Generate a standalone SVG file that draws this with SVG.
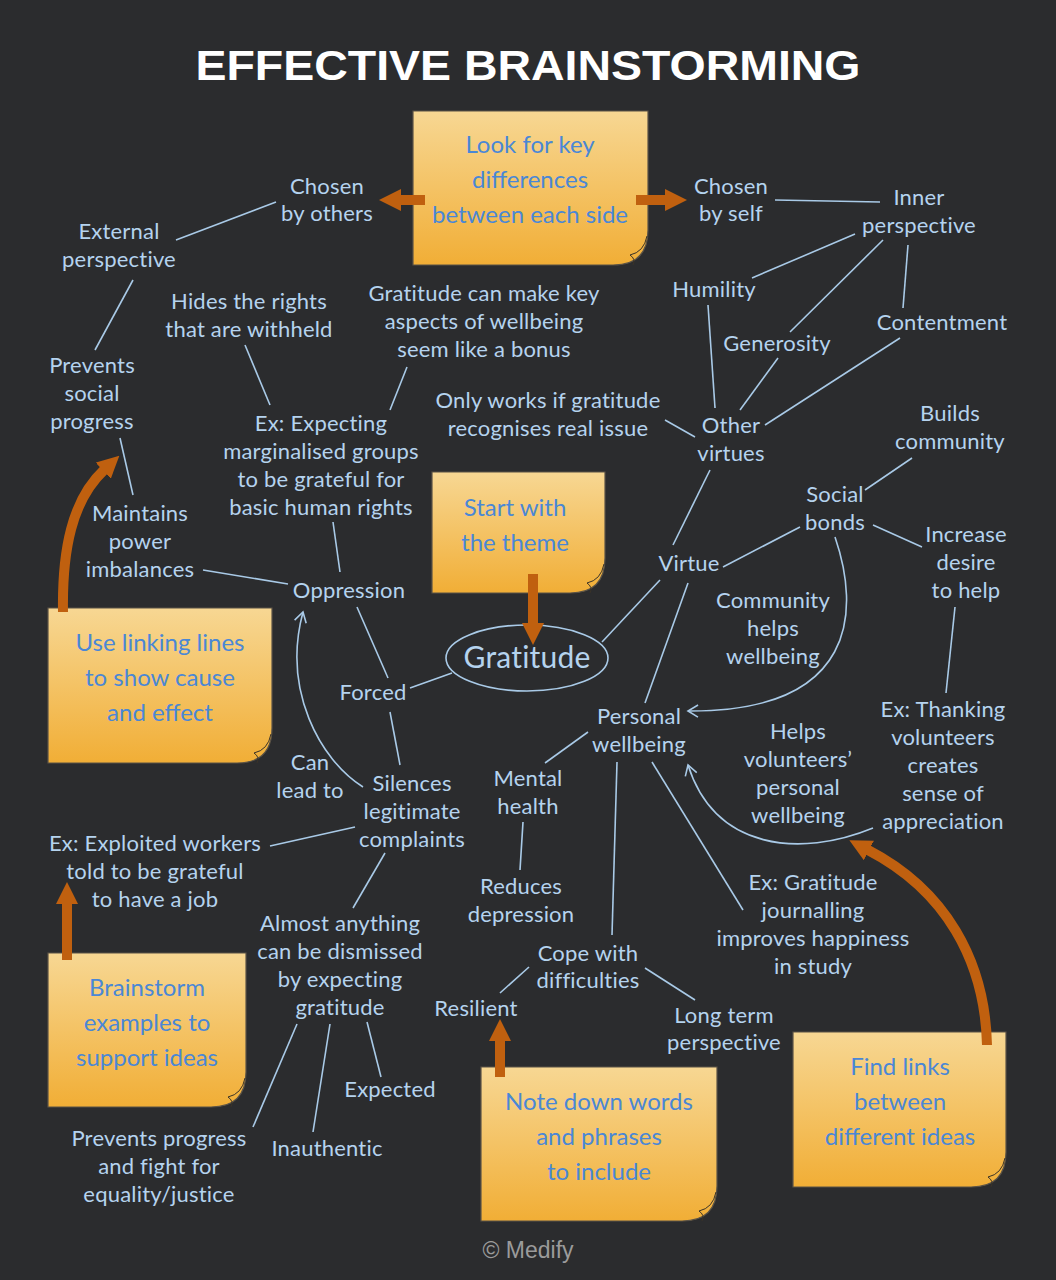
<svg xmlns="http://www.w3.org/2000/svg" width="1056" height="1280" viewBox="0 0 1056 1280">
<style>
.t{font-family:Lato,"Open Sans",sans-serif;font-size:22px;letter-spacing:0.2px;fill:#b5d3ee;text-anchor:middle}
.s{font-family:Lato,"Open Sans",sans-serif;font-size:24px;fill:#4a87d6;text-anchor:middle}
.c{fill:none;stroke:#a9cae7;stroke-width:1.6}
.ca{fill:none;stroke:#a9cae7;stroke-width:1.6;marker-end:url(#la)}
.o{fill:none;stroke:#c0600f;stroke-width:10;marker-end:url(#oa)}
.note{fill:url(#ng);stroke:#5b5346;stroke-width:1.2}
.curl{fill:none;stroke:#3a3328;stroke-width:1}
</style>
<defs>
<linearGradient id="ng" x1="0" y1="0" x2="0" y2="1">
<stop offset="0" stop-color="#f7d793"/>
<stop offset="1" stop-color="#f1ae36"/>
</linearGradient>
<marker id="oa" markerUnits="userSpaceOnUse" markerWidth="22" markerHeight="22" viewBox="0 0 22 22" refX="1" refY="11" orient="auto">
<path d="M0,0 L22,11 L0,22 Z" fill="#c0600f"/>
</marker>
<marker id="la" markerUnits="userSpaceOnUse" markerWidth="14" markerHeight="14" viewBox="0 0 14 14" refX="12" refY="7" orient="auto">
<path d="M2,1 L12,7 L2,13" fill="none" stroke="#a9cae7" stroke-width="1.6"/>
</marker>
</defs>
<rect width="1056" height="1280" fill="#2b2c2e"/>
<text x="528" y="80" font-family="Liberation Sans,Arial,sans-serif" font-weight="bold" font-size="42" fill="#ffffff" text-anchor="middle" textLength="665" lengthAdjust="spacingAndGlyphs">EFFECTIVE BRAINSTORMING</text>

<g id="connectors">
<path class="c" d="M176,240 L276,202"/>
<path class="c" d="M133,280 L95,350"/>
<path class="c" d="M120,438 L133,495"/>
<path class="c" d="M203,570 L288,584"/>
<path class="c" d="M245,345 L270,405"/>
<path class="c" d="M407,367 L390,410"/>
<path class="c" d="M333,522 L340,572"/>
<path class="c" d="M357,607 L388,678"/>
<path class="c" d="M410,688 L452,673"/>
<path class="c" d="M390,712 L400,765"/>
<path class="c" d="M602,642 L660,580"/>
<path class="ca" d="M363,787 C320,760 282,690 303,612"/>
<path class="c" d="M355,827 L270,846"/>
<path class="c" d="M385,853 L353,908"/>
<path class="c" d="M297,1024 L253,1127"/>
<path class="c" d="M330,1024 L313,1132"/>
<path class="c" d="M367,1022 L381,1077"/>
<path class="c" d="M775,200 L880,202"/>
<path class="c" d="M855,234 L752,278"/>
<path class="c" d="M883,240 L790,332"/>
<path class="c" d="M908,245 L903,308"/>
<path class="c" d="M708,305 L715,408"/>
<path class="c" d="M778,358 L740,410"/>
<path class="c" d="M900,338 L765,425"/>
<path class="c" d="M665,420 L695,437"/>
<path class="c" d="M710,470 L673,545"/>
<path class="c" d="M723,567 L800,527"/>
<path class="c" d="M688,583 L645,703"/>
<path class="c" d="M912,458 L865,490"/>
<path class="c" d="M873,525 L922,547"/>
<path class="c" d="M955,607 L946,693"/>
<path class="ca" d="M835,537 C860,610 858,712 688,711"/>
<path class="c" d="M588,732 L545,763"/>
<path class="c" d="M617,762 L612,935"/>
<path class="c" d="M652,762 L743,910"/>
<path class="c" d="M523,822 L520,870"/>
<path class="ca" d="M873,828 C800,858 715,850 688,765"/>
<path class="c" d="M529,967 L500,993"/>
<path class="c" d="M645,968 L695,1000"/>
</g>

<g id="gratitude">
<ellipse cx="527" cy="658" rx="81" ry="33" fill="none" stroke="#a9cae7" stroke-width="1.6"/>
<text class="t" x="527" y="668" style="font-size:30px">Gratitude</text>
</g>

<g id="n-chosen-others"><text class="t" x="327" y="194">Chosen</text><text class="t" x="327" y="221">by others</text></g>
<g id="n-external"><text class="t" x="119" y="239">External</text><text class="t" x="119" y="267">perspective</text></g>
<g id="n-prevents-social"><text class="t" x="92" y="373">Prevents</text><text class="t" x="92" y="401">social</text><text class="t" x="92" y="429">progress</text></g>
<g id="n-maintains"><text class="t" x="140" y="521">Maintains</text><text class="t" x="140" y="549">power</text><text class="t" x="140" y="577">imbalances</text></g>
<g id="n-hides"><text class="t" x="249" y="309">Hides the rights</text><text class="t" x="249" y="337">that are withheld</text></g>
<g id="n-bonus"><text class="t" x="484" y="301">Gratitude can make key</text><text class="t" x="484" y="329">aspects of wellbeing</text><text class="t" x="484" y="357">seem like a bonus</text></g>
<g id="n-ex-expecting"><text class="t" x="321" y="431">Ex: Expecting</text><text class="t" x="321" y="459">marginalised groups</text><text class="t" x="321" y="487">to be grateful for</text><text class="t" x="321" y="515">basic human rights</text></g>
<g id="n-oppression"><text class="t" x="349" y="598">Oppression</text></g>
<g id="n-forced"><text class="t" x="373" y="700">Forced</text></g>
<g id="n-canlead"><text class="t" x="310" y="770">Can</text><text class="t" x="310" y="798">lead to</text></g>
<g id="n-silences"><text class="t" x="412" y="791">Silences</text><text class="t" x="412" y="819">legitimate</text><text class="t" x="412" y="847">complaints</text></g>
<g id="n-ex-exploited"><text class="t" x="155" y="851">Ex: Exploited workers</text><text class="t" x="155" y="879">told to be grateful</text><text class="t" x="155" y="907">to have a job</text></g>
<g id="n-almost"><text class="t" x="340" y="931">Almost anything</text><text class="t" x="340" y="959">can be dismissed</text><text class="t" x="340" y="987">by expecting</text><text class="t" x="340" y="1015">gratitude</text></g>
<g id="n-prevents-progress"><text class="t" x="159" y="1146">Prevents progress</text><text class="t" x="159" y="1174">and fight for</text><text class="t" x="159" y="1202">equality/justice</text></g>
<g id="n-inauthentic"><text class="t" x="327" y="1156">Inauthentic</text></g>
<g id="n-expected"><text class="t" x="390" y="1097">Expected</text></g>
<g id="n-chosen-self"><text class="t" x="731" y="194">Chosen</text><text class="t" x="731" y="221">by self</text></g>
<g id="n-inner"><text class="t" x="919" y="205">Inner</text><text class="t" x="919" y="233">perspective</text></g>
<g id="n-humility"><text class="t" x="714" y="297">Humility</text></g>
<g id="n-generosity"><text class="t" x="777" y="351">Generosity</text></g>
<g id="n-contentment"><text class="t" x="942" y="330">Contentment</text></g>
<g id="n-onlyworks"><text class="t" x="548" y="408">Only works if gratitude</text><text class="t" x="548" y="436">recognises real issue</text></g>
<g id="n-other"><text class="t" x="731" y="433">Other</text><text class="t" x="731" y="461">virtues</text></g>
<g id="n-virtue"><text class="t" x="689" y="571">Virtue</text></g>
<g id="n-builds"><text class="t" x="950" y="421">Builds</text><text class="t" x="950" y="449">community</text></g>
<g id="n-social"><text class="t" x="835" y="502">Social</text><text class="t" x="835" y="530">bonds</text></g>
<g id="n-increase"><text class="t" x="966" y="542">Increase</text><text class="t" x="966" y="570">desire</text><text class="t" x="966" y="598">to help</text></g>
<g id="n-community"><text class="t" x="773" y="608">Community</text><text class="t" x="773" y="636">helps</text><text class="t" x="773" y="664">wellbeing</text></g>
<g id="n-personal"><text class="t" x="639" y="724">Personal</text><text class="t" x="639" y="752">wellbeing</text></g>
<g id="n-mental"><text class="t" x="528" y="786">Mental</text><text class="t" x="528" y="814">health</text></g>
<g id="n-reduces"><text class="t" x="521" y="894">Reduces</text><text class="t" x="521" y="922">depression</text></g>
<g id="n-helps"><text class="t" x="798" y="739">Helps</text><text class="t" x="798" y="767">volunteers’</text><text class="t" x="798" y="795">personal</text><text class="t" x="798" y="823">wellbeing</text></g>
<g id="n-thanking"><text class="t" x="943" y="717">Ex: Thanking</text><text class="t" x="943" y="745">volunteers</text><text class="t" x="943" y="773">creates</text><text class="t" x="943" y="801">sense of</text><text class="t" x="943" y="829">appreciation</text></g>
<g id="n-journal"><text class="t" x="813" y="890">Ex: Gratitude</text><text class="t" x="813" y="918">journalling</text><text class="t" x="813" y="946">improves happiness</text><text class="t" x="813" y="974">in study</text></g>
<g id="n-cope"><text class="t" x="588" y="961">Cope with</text><text class="t" x="588" y="988">difficulties</text></g>
<g id="n-resilient"><text class="t" x="476" y="1016">Resilient</text></g>
<g id="n-longterm"><text class="t" x="724" y="1023">Long term</text><text class="t" x="724" y="1050">perspective</text></g>

<g id="note-differences">
<path class="note" d="M413,111 H648 V230 Q648,265 613,265 H413 Z"/>
<path class="curl" d="M647,236 Q644,252 630,255 Q636,259 633,265"/>
<text class="s" x="530" y="153">Look for key</text><text class="s" x="530" y="188">differences</text><text class="s" x="530" y="223">between each side</text>
</g>
<g id="note-theme">
<path class="note" d="M432,472 H605 V558 Q605,593 570,593 H432 Z"/>
<path class="curl" d="M604,564 Q601,580 587,583 Q593,587 590,593"/>
<text class="s" x="515" y="516">Start with</text><text class="s" x="515" y="551">the theme</text>
</g>
<g id="note-linking">
<path class="note" d="M48,608 H272 V728 Q272,763 237,763 H48 Z"/>
<path class="curl" d="M271,734 Q268,750 254,753 Q260,757 257,763"/>
<text class="s" x="160" y="651">Use linking lines</text><text class="s" x="160" y="686">to show cause</text><text class="s" x="160" y="721">and effect</text>
</g>
<g id="note-examples">
<path class="note" d="M48,953 H246 V1072 Q246,1107 211,1107 H48 Z"/>
<path class="curl" d="M245,1078 Q242,1094 228,1097 Q234,1101 231,1107"/>
<text class="s" x="147" y="996">Brainstorm</text><text class="s" x="147" y="1031">examples to</text><text class="s" x="147" y="1066">support ideas</text>
</g>
<g id="note-words">
<path class="note" d="M481,1067 H717 V1186 Q717,1221 682,1221 H481 Z"/>
<path class="curl" d="M716,1192 Q713,1208 699,1211 Q705,1215 702,1221"/>
<text class="s" x="599" y="1110">Note down words</text><text class="s" x="599" y="1145">and phrases</text><text class="s" x="599" y="1180">to include</text>
</g>
<g id="note-links">
<path class="note" d="M793,1032 H1006 V1152 Q1006,1187 971,1187 H793 Z"/>
<path class="curl" d="M1005,1158 Q1002,1174 988,1177 Q994,1181 991,1187"/>
<text class="s" x="900" y="1075">Find links</text><text class="s" x="900" y="1110">between</text><text class="s" x="900" y="1145">different ideas</text>
</g>

<g id="orange-arrows">
<path class="o" d="M425,200 L400,200"/>
<path class="o" d="M636,200 L666,200"/>
<path class="o" d="M533,574 L533,624"/>
<path class="o" d="M63,612 C62,550 72,500 104,470"/>
<path class="o" d="M67,960 L67,903"/>
<path class="o" d="M500,1077 L500,1040"/>
<path class="o" d="M987,1045 C985,960 945,890 868,850"/>
</g>

<text x="528" y="1258" font-family="Liberation Sans,Arial,sans-serif" font-size="23" fill="#9b9b9b" text-anchor="middle">© Medify</text>
</svg>
